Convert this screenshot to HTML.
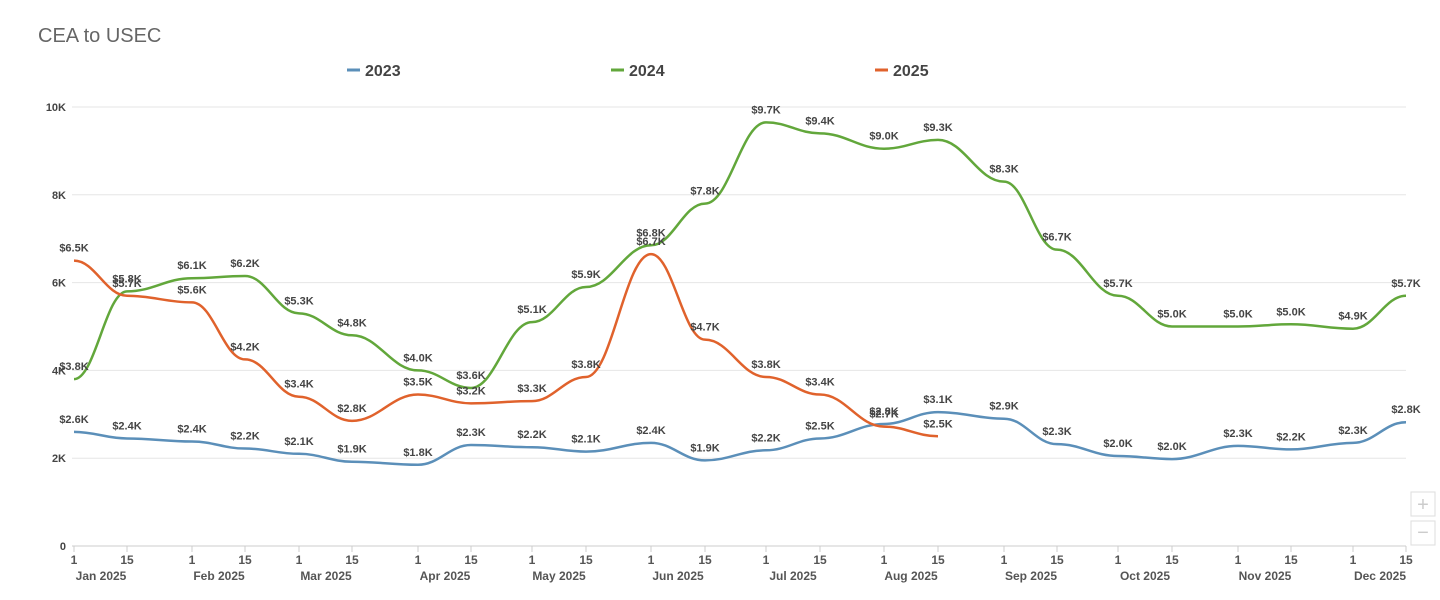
<!DOCTYPE html>
<html><head><meta charset="utf-8"><style>
body{margin:0;background:#fff;width:1440px;height:595px;overflow:hidden;font-family:"Liberation Sans",sans-serif}
svg text{font-family:"Liberation Sans",sans-serif}
</style></head><body>
<svg id="c" width="1440" height="595" xmlns="http://www.w3.org/2000/svg">
<text x="38" y="42" font-size="20" fill="#666">CEA to USEC</text>
<line x1="347" y1="70" x2="360" y2="70" stroke="#5b8fb9" stroke-width="3"/>
<text x="365" y="76" font-size="16" font-weight="bold" fill="#444">2023</text>
<line x1="611" y1="70" x2="624" y2="70" stroke="#62a73b" stroke-width="3"/>
<text x="629" y="76" font-size="16" font-weight="bold" fill="#444">2024</text>
<line x1="875" y1="70" x2="888" y2="70" stroke="#e0622c" stroke-width="3"/>
<text x="893" y="76" font-size="16" font-weight="bold" fill="#444">2025</text>
<rect x="1411" y="492" width="24" height="24" fill="none" stroke="#ddd"/>
<text x="1423" y="511" font-size="20" fill="#ccc" text-anchor="middle">+</text>
<rect x="1411" y="521" width="24" height="24" fill="none" stroke="#ddd"/>
<text x="1423" y="539" font-size="20" fill="#ccc" text-anchor="middle">−</text>
</svg>
<script>
const svg=document.getElementById('c');const NS='http://www.w3.org/2000/svg';
function el(t,a,txt){const e=document.createElementNS(NS,t);for(const k in a)e.setAttribute(k,a[k]);if(txt!=null)e.textContent=txt;svg.appendChild(e);return e;}
const X=[74,127,192,245,299,352,418,471,532,586,651,705,766,820,884,938,1004,1057,1118,1172,1238,1291,1353,1406];
const Y=v=>546-v*43.9;
for(let i=0;i<=5;i++){const y=546-i*87.8;el('line',{x1:72,x2:1406,y1:y,y2:y,stroke:i?'#e6e6e6':'#ccc','stroke-width':1});
el('text',{x:66,y:y+4,'font-size':11,'font-weight':'bold',fill:'#444','text-anchor':'end'},i?(2*i)+'K':'0');}
const M=['Jan','Feb','Mar','Apr','May','Jun','Jul','Aug','Sep','Oct','Nov','Dec'];
X.forEach((x,i)=>{el('line',{x1:x,x2:x,y1:546,y2:552,stroke:'#ccc'});el('text',{x:x,y:564,'font-size':12,'font-weight':'bold',fill:'#555','text-anchor':'middle'},i%2?'15':'1');});
M.forEach((m,i)=>el('text',{x:X[2*i]+27,y:580,'font-size':12,'font-weight':'bold',fill:'#555','text-anchor':'middle'},m+' 2025'));
const S=[
{c:'#5b8fb9',d:[2.6,2.45,2.38,2.22,2.1,1.92,1.85,2.3,2.25,2.15,2.35,1.95,2.18,2.45,2.78,3.05,2.9,2.32,2.05,1.98,2.28,2.2,2.35,2.82],l:[2.6,2.4,2.4,2.2,2.1,1.9,1.8,2.3,2.2,2.1,2.4,1.9,2.2,2.5,2.8,3.1,2.9,2.3,2.0,2.0,2.3,2.2,2.3,2.8]},
{c:'#62a73b',d:[3.8,5.8,6.1,6.15,5.3,4.8,4.0,3.6,5.1,5.9,6.85,7.8,9.65,9.4,9.05,9.25,8.3,6.75,5.7,5.0,5.0,5.05,4.95,5.7],l:[3.8,5.8,6.1,6.2,5.3,4.8,4.0,3.6,5.1,5.9,6.8,7.8,9.7,9.4,9.0,9.3,8.3,6.7,5.7,5.0,5.0,5.0,4.9,5.7]},
{c:'#e0622c',d:[6.5,5.7,5.55,4.25,3.4,2.85,3.45,3.25,3.3,3.85,6.65,4.7,3.85,3.45,2.72,2.5],l:[6.5,5.7,5.6,4.2,3.4,2.8,3.5,3.2,3.3,3.8,6.7,4.7,3.8,3.4,2.7,2.5]}];
S.forEach(s=>{const p=s.d.map((v,i)=>[X[i],Y(v)]);let d='M'+p[0];
for(let i=0;i<p.length-1;i++){const a=p[i],b=p[i+1],dx=(b[0]-a[0])*0.4;d+=` C${a[0]+dx},${a[1]} ${b[0]-dx},${b[1]} ${b[0]},${b[1]}`;}
el('path',{d:d,fill:'none',stroke:s.c,'stroke-width':2.5});});
S.forEach(s=>s.d.forEach((v,i)=>el('text',{x:X[i],y:Y(v)-9,'font-size':11,'font-weight':'bold',fill:'#444','text-anchor':'middle'},'$'+s.l[i].toFixed(1)+'K')));
</script>
</body></html>
